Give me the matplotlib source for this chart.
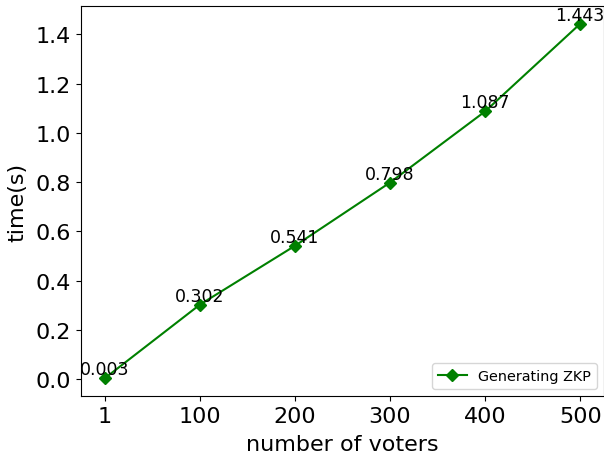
import numpy as np
import matplotlib
matplotlib.use('Agg')
import matplotlib.pyplot as plt

voters = ['1', '100', '200', '300', '400', '500']
zkp_time = [0.003, 0.302, 0.541, 0.798, 1.087, 1.443]

fig = plt.figure(figsize=(6.04, 4.56), dpi=100)
ax = fig.add_axes([81 / 604, 59 / 456, 523 / 604, 390 / 456])

x = np.arange(len(voters))
ax.plot(x, zkp_time, color='green', marker='D', markersize=6, linewidth=1.5,
        label='Generating ZKP')

# value labels sit right on top of each marker
for xi, yi in zip(x, zkp_time):
    ax.text(xi, yi, '%.3f' % yi, ha='center', va='bottom', fontsize=12.5)

ax.set_xticks(x)
ax.set_xticklabels(voters)
ax.tick_params(labelsize=16)
ax.set_xlabel('number of voters', fontsize=16, labelpad=6)
ax.set_ylabel('time(s)', fontsize=16, labelpad=6)
ax.legend(loc='lower right', fontsize=10.4)

fig.savefig('out.png', dpi=100)
